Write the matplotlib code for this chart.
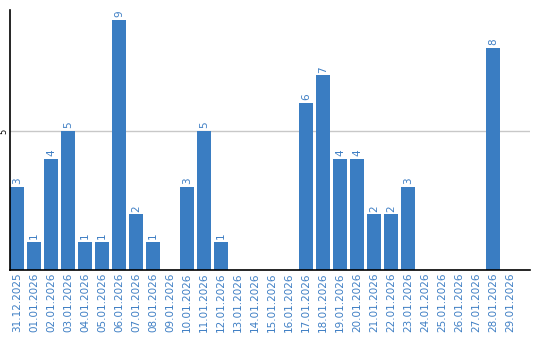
import matplotlib
matplotlib.use("Agg")
import matplotlib.pyplot as plt

dates = [
    "31.12.2025", "01.01.2026", "02.01.2026", "03.01.2026", "04.01.2026",
    "05.01.2026", "06.01.2026", "07.01.2026", "08.01.2026", "09.01.2026",
    "10.01.2026", "11.01.2026", "12.01.2026", "13.01.2026", "14.01.2026",
    "15.01.2026", "16.01.2026", "17.01.2026", "18.01.2026", "19.01.2026",
    "20.01.2026", "21.01.2026", "22.01.2026", "23.01.2026", "24.01.2026",
    "25.01.2026", "26.01.2026", "27.01.2026", "28.01.2026", "29.01.2026",
]
counts = [3, 1, 4, 5, 1, 1, 9, 2, 1, 0,
          3, 5, 1, 0, 0, 0, 0, 6, 7, 4,
          4, 2, 2, 3, 0, 0, 0, 0, 8, 0]

BAR = "#3a7dc2"
TEXT = "#3f7fc4"
BAR_W = 14 / 17

fig = plt.figure(figsize=(5.4, 3.4), dpi=100)
ax = fig.add_axes([10 / 540, 70 / 340, 520 / 540, 260 / 340])

x = list(range(len(dates)))
ax.bar(x, counts, width=BAR_W, color=BAR, zorder=2)

for xi, v in zip(x, counts):
    if v > 0:
        ax.annotate(str(v), (xi, v), xytext=(0, 2), textcoords="offset points",
                    rotation=90, ha="center", va="bottom",
                    fontsize=7.5, color=TEXT)

ax.set_xlim(-BAR_W / 2, -BAR_W / 2 + 520 / 17)
ax.set_ylim(0, 260 / 27.8)

ax.set_xticks(x)
ax.set_xticklabels(dates, rotation=90, fontsize=7.5, color=TEXT)
ax.tick_params(axis="x", length=0, pad=2)

ax.set_yticks([5])
ax.set_yticklabels(["5"], rotation=90, fontsize=6, va="center")
ax.tick_params(axis="y", length=0, pad=1.5)
ax.yaxis.grid(True, color="#c8c8c8", linewidth=1, zorder=1)

for side in ("top", "right"):
    ax.spines[side].set_visible(False)
ax.spines["left"].set_linewidth(1.2)
ax.spines["bottom"].set_linewidth(1.2)

fig.savefig("out.png", dpi=100)
